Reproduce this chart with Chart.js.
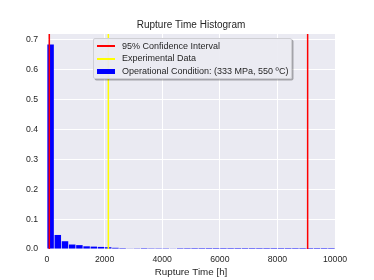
<!DOCTYPE html>
<html>
<head>
<meta charset="utf-8">
<script src="https://cdn.jsdelivr.net/npm/chart.js@4"></script>
<style>
  body { margin: 0; background: #fff; }
  #wrap { position: relative; width: 374px; height: 280px; }
  #legend {
    position: absolute; left: 93px; top: 38px; width: 199px; height: 41px;
    box-sizing: border-box; border: 1px solid #cfcfd4; border-radius: 2px;
    background: rgba(234, 234, 242, 0.92);
    box-shadow: 1.5px 1.5px 0 rgba(0, 0, 0, 0.3);
    font: 9px "Liberation Sans", Arial, sans-serif; color: #262626;
    padding-top: 0.5px;
  }
  .row { display: flex; align-items: center; height: 12.8px; line-height: 12.8px; white-space: nowrap; }
  .swatch { width: 18px; margin-left: 3px; margin-right: 7px; flex: none; }
</style>
</head>
<body>
<div id="wrap">
  <canvas id="my-chart" width="374" height="280"></canvas>
  <div id="legend"></div>
</div>
<script>
// histogram bins (250 h wide), centre of each bin
const binCenters = [125, 375, 625, 875, 1125, 1375, 1625, 1875, 2125, 2375,
  2625, 2875, 3125, 3375, 3625, 3875, 4125, 4375, 4625, 4875,
  5125, 5375, 5625, 5875, 6125, 6375, 6625, 6875, 7125, 7375,
  7625, 7875, 8125, 8375, 8625, 8875, 9125, 9375, 9625, 9875];
const binHeights = [0.685, 0.047, 0.026, 0.015, 0.013, 0.009, 0.008, 0.007, 0.006, 0.004,
  0.003, 0.002, 0.001, 0.003, 0.0008, 0.0008, 0.0008, 0.002, 0.0004, 0.0003,
  0.0002, 0.0002, 0.0001, 0.0001, 0.0001, 0.0001, 0.0001, 0.0001, 0.0001, 0.0001,
  0.0001, 0.0001, 0.0001, 0.0001, 0.0001, 0.0001, 0.0001, 0.0001, 0.0001, 0.0001];

const ciBounds = [80, 9050];     // 95% confidence interval [h]
const experimental = [2130];     // experimental rupture time [h]

const xTicks = [0, 2000, 4000, 6000, 8000, 10000];
const yTicks = [0.0, 0.1, 0.2, 0.3, 0.4, 0.5, 0.6, 0.7];
const yMax = 0.72;

const textColor = '#262626';
const fontFamily = '"Liberation Sans", Arial, sans-serif';

function vline(x) {
  return [{ x: x, y: 0 }, { x: x, y: yMax }];
}

const plotBackground = {
  id: 'plotBackground',
  beforeDraw(chart) {
    const a = chart.chartArea;
    const ctx = chart.ctx;
    ctx.save();
    ctx.fillStyle = '#eaeaf2';
    ctx.fillRect(a.left, a.top, a.right - a.left, a.bottom - a.top);
    ctx.restore();
  }
};

window.addEventListener('DOMContentLoaded', function () {
  const ctx = document.getElementById('my-chart').getContext('2d');
  window.myChart = new Chart(ctx, {
    type: 'bar',
    data: {
      datasets: [
        {
          type: 'line',
          label: '95% Confidence Interval',
          data: vline(ciBounds[0]),
          borderColor: '#ff0000',
          borderWidth: 1.5,
          pointRadius: 0,
          order: 1
        },
        {
          type: 'line',
          data: vline(ciBounds[1]),
          borderColor: '#ff0000',
          borderWidth: 1.5,
          pointRadius: 0,
          order: 1
        },
        {
          type: 'line',
          label: 'Experimental Data',
          data: vline(experimental[0]),
          borderColor: '#ffff00',
          borderWidth: 1.5,
          pointRadius: 0,
          order: 1
        },
        {
          label: 'Operational Condition: (333 MPa, 550 ºC)',
          data: binCenters.map((x, i) => ({ x: x, y: binHeights[i] })),
          backgroundColor: '#0000ff',
          borderWidth: 0,
          barPercentage: 1,
          categoryPercentage: 0.9,
          order: 2
        }
      ]
    },
    options: {
      responsive: false,
      animation: false,
      layout: { padding: { left: 0, right: 39, top: 0, bottom: 0 } },
      plugins: {
        legend: { display: false },
        tooltip: { enabled: false },
        title: {
          display: true,
          text: 'Rupture Time Histogram',
          fullSize: false,
          color: textColor,
          font: { family: fontFamily, size: 10, weight: 'normal' },
          padding: { top: 19, bottom: 3 }
        }
      },
      scales: {
        x: {
          type: 'linear',
          min: xTicks[0],
          max: xTicks[xTicks.length - 1],
          offset: false,
          afterFit(scale) { scale.height = 31; },
          afterBuildTicks(scale) { scale.ticks = xTicks.map(v => ({ value: v })); },
          grid: { color: '#ffffff', lineWidth: 1, drawTicks: false, offset: false },
          border: { display: false },
          ticks: {
            color: textColor,
            font: { family: fontFamily, size: 8.7 },
            padding: 5,
            maxRotation: 0,
            callback: v => String(v)
          },
          title: {
            display: true,
            text: 'Rupture Time [h]',
            color: textColor,
            font: { family: fontFamily, size: 9.8 },
            padding: { top: 0, bottom: 2 }
          }
        },
        y: {
          min: 0,
          max: yMax,
          afterFit(scale) { scale.width = 47; },
          afterBuildTicks(scale) { scale.ticks = yTicks.map(v => ({ value: v })); },
          grid: { color: '#ffffff', lineWidth: 1, drawTicks: false },
          border: { display: false },
          ticks: {
            color: textColor,
            font: { family: fontFamily, size: 8.7 },
            padding: 9,
            callback: v => v.toFixed(1)
          }
        }
      }
    },
    plugins: [plotBackground]
  });

  // legend box drawn as html, from the labelled datasets
  const legend = document.getElementById('legend');
  window.myChart.data.datasets.filter(d => d.label).forEach(function (d) {
    const row = document.createElement('div');
    row.className = 'row';
    const sw = document.createElement('span');
    sw.className = 'swatch';
    if (d.type === 'line') {
      sw.style.height = '2px';
      sw.style.backgroundColor = d.borderColor;
    } else {
      sw.style.height = '5px';
      sw.style.backgroundColor = d.backgroundColor;
    }
    const txt = document.createElement('span');
    txt.textContent = d.label;
    row.appendChild(sw);
    row.appendChild(txt);
    legend.appendChild(row);
  });
});
</script>
</body>
</html>
